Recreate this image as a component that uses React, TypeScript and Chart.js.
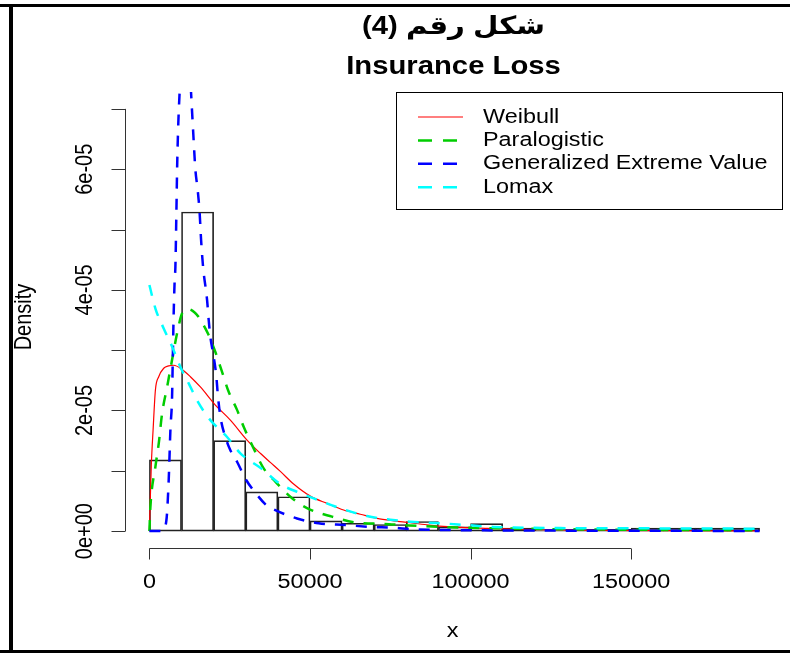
import React, { useEffect, useRef } from "react";
import { Chart, registerables } from "chart.js";

Chart.register(...registerables);

// ---------- text ----------
const TITLE_AR = "شكل رقم (4)";
const TITLE_EN = "Insurance Loss";
const X_LABEL = "x";
const Y_LABEL = "Density";

// ---------- histogram ----------
const binStarts = [0, 10000, 20000, 30000, 40000, 50000, 60000, 70000, 80000, 90000, 100000, 110000, 120000, 130000, 140000, 150000, 160000, 170000, 180000];
const binWidth = 10000;
const binDensity = [1.18e-5, 5.29e-5, 1.5e-5, 0.65e-5, 0.57e-5, 0.17e-5, 0.13e-5, 0.11e-5, 0.16e-5, 0.07e-5, 0.125e-5, 0.05e-5, 0.03e-5, 0.03e-5, 0.03e-5, 0.05e-5, 0.05e-5, 0.05e-5, 0.05e-5];

// ---------- fitted densities ----------
const weibullX = [0, 150, 310, 600, 1150, 1870, 2900, 4450, 6000, 7560, 10180, 12760, 15870, 20540, 25210, 30400, 34540, 37650, 40770, 44900, 50090, 55300, 60470, 65660, 70860, 76030, 81220, 87000, 94000, 105000, 120000, 140000, 165000, 190000];
const weibullY = [0, 0.3e-5, 0.6e-5, 1.1e-5, 1.68e-5, 2.34e-5, 2.56e-5, 2.7e-5, 2.74e-5, 2.75e-5, 2.68e-5, 2.56e-5, 2.39e-5, 2.09e-5, 1.84e-5, 1.51e-5, 1.29e-5, 1.14e-5, 0.99e-5, 0.78e-5, 0.58e-5, 0.46e-5, 0.35e-5, 0.28e-5, 0.21e-5, 0.17e-5, 0.14e-5, 0.1e-5, 0.07e-5, 0.045e-5, 0.025e-5, 0.012e-5, 0.006e-5, 0.003e-5];

const paraX = [0, 310, 1870, 2900, 3950, 5510, 7060, 8620, 10180, 12000, 14000, 15340, 18450, 20540, 22620, 24680, 27290, 29350, 32460, 35570, 39210, 43880, 49080, 56860, 64640, 72910, 79140, 90000, 105000, 130000, 160000, 190000];
const paraY = [0, 0.4e-5, 1.07e-5, 1.45e-5, 1.95e-5, 2.39e-5, 2.84e-5, 3.28e-5, 3.61e-5, 3.68e-5, 3.63e-5, 3.55e-5, 3.25e-5, 2.97e-5, 2.64e-5, 2.31e-5, 2.01e-5, 1.73e-5, 1.37e-5, 1.04e-5, 0.82e-5, 0.57e-5, 0.38e-5, 0.24e-5, 0.14e-5, 0.12e-5, 0.1e-5, 0.07e-5, 0.05e-5, 0.03e-5, 0.02e-5, 0.015e-5];

const gevX = [0, 4000, 5290, 6010, 6540, 7060, 7250, 7560, 7870, 8090, 8400, 8620, 8930, 9340, 10300, 11100, 12100, 12980, 13600, 14320, 15030, 15650, 16090, 16710, 17960, 18460, 18980, 20010, 20850, 21270, 22100, 23650, 25210, 27290, 29880, 33520, 36630, 38690, 45960, 52690, 61000, 68780, 76030, 82000, 100000, 130000, 160000, 190000];
const gevY = [0, 0, 0.18e-5, 0.85e-5, 1.68e-5, 2.23e-5, 2.78e-5, 3.61e-5, 4.16e-5, 4.38e-5, 5.27e-5, 5.99e-5, 6.65e-5, 7.2e-5, 8.1e-5, 8.6e-5, 8.2e-5, 7.26e-5, 6.65e-5, 5.99e-5, 5.66e-5, 5.27e-5, 4.83e-5, 4.38e-5, 3.83e-5, 3.5e-5, 3.22e-5, 2.89e-5, 2.56e-5, 2.28e-5, 1.9e-5, 1.56e-5, 1.34e-5, 1.15e-5, 0.87e-5, 0.6e-5, 0.42e-5, 0.36e-5, 0.21e-5, 0.13e-5, 0.1e-5, 0.07e-5, 0.055e-5, 0.03e-5, 0.015e-5, 0.008e-5, 0.005e-5, 0.003e-5];

const lomaxX = [0, 1870, 4450, 7060, 9650, 12230, 15340, 18980, 24180, 28320, 35070, 40770, 46990, 53750, 60470, 67750, 75000, 81220, 90560, 98870, 107140, 127900, 160000, 190000];
const lomaxY = [4.08e-5, 3.69e-5, 3.36e-5, 3.06e-5, 2.72e-5, 2.45e-5, 2.12e-5, 1.84e-5, 1.56e-5, 1.29e-5, 1.03e-5, 0.78e-5, 0.63e-5, 0.49e-5, 0.36e-5, 0.25e-5, 0.19e-5, 0.155e-5, 0.13e-5, 0.1e-5, 0.07e-5, 0.05e-5, 0.045e-5, 0.04e-5];

const seriesNames = ["Weibull", "Paralogistic", "Generalized Extreme Value", "Lomax"];
const seriesColors = ["#FF0000", "#00CD00", "#0000FF", "#00FFFF"];

// ---------- axes ----------
const xTickValues = [0, 50000, 100000, 150000];
const xTickLabels = ["0", "50000", "100000", "150000"];
const yTickValues = [0, 1e-5, 2e-5, 3e-5, 4e-5, 5e-5, 6e-5, 7e-5];
const yTickLabels = ["0e+00", "", "2e-05", "", "4e-05", "", "6e-05", ""];

const FONT = '"Liberation Sans", Arial, Helvetica, sans-serif';
const AR_FONT = '"Liberation Sans", Arial, "DejaVu Sans", sans-serif';
const SX = 1.17;
const DASH = [11, 10];

function drawText(
  ctx: CanvasRenderingContext2D,
  s: string,
  x: number,
  y: number,
  font: string,
  align: CanvasTextAlign = "center",
  rot = 0,
  dir: CanvasDirection = "ltr"
) {
  ctx.save();
  ctx.translate(x, y);
  ctx.scale(SX, 1);
  if (rot) ctx.rotate(rot);
  ctx.font = font;
  ctx.direction = dir;
  ctx.textAlign = align;
  ctx.textBaseline = "middle";
  ctx.fillStyle = "#000";
  ctx.fillText(s, 0, 0);
  ctx.restore();
}

const rPlot = {
  id: "rPlot",
  beforeDraw(chart: any) {
    const ctx = chart.ctx as CanvasRenderingContext2D;
    ctx.save();
    ctx.fillStyle = "#fff";
    ctx.fillRect(0, 0, chart.width, chart.height);
    ctx.restore();
  },
  afterDraw(chart: any) {
    const ctx = chart.ctx as CanvasRenderingContext2D;
    const xs = chart.scales.x;
    const ys = chart.scales.y;
    const a = chart.chartArea;
    ctx.save();
    // outer frame
    ctx.fillStyle = "#000";
    ctx.fillRect(0, 4, chart.width, 3);
    ctx.fillRect(9, 4, 4, chart.height - 4);
    ctx.fillRect(0, chart.height - 3, chart.width, 3);

    ctx.strokeStyle = "#333";
    ctx.lineWidth = 1;
    // x axis
    const yb = Math.round(a.bottom) + 0.5;
    const x0 = xs.getPixelForValue(xTickValues[0]);
    const x1 = xs.getPixelForValue(xTickValues[xTickValues.length - 1]);
    ctx.beginPath();
    ctx.moveTo(x0, yb);
    ctx.lineTo(x1, yb);
    xTickValues.forEach((v) => {
      const px = Math.round(xs.getPixelForValue(v)) + 0.5;
      ctx.moveTo(px, yb);
      ctx.lineTo(px, yb + 11);
    });
    ctx.stroke();
    xTickValues.forEach((v, i) => {
      drawText(ctx, xTickLabels[i], xs.getPixelForValue(v), a.bottom + 34, `20px ${FONT}`);
    });
    // y axis
    const xl = Math.round(a.left) + 0.5;
    const y0 = ys.getPixelForValue(yTickValues[0]);
    const y1 = ys.getPixelForValue(yTickValues[yTickValues.length - 1]);
    ctx.beginPath();
    ctx.moveTo(xl, y0);
    ctx.lineTo(xl, y1);
    yTickValues.forEach((v) => {
      const py = Math.round(ys.getPixelForValue(v)) + 0.5;
      ctx.moveTo(xl, py);
      ctx.lineTo(xl - 14, py);
    });
    ctx.stroke();
    yTickValues.forEach((v, i) => {
      if (yTickLabels[i]) drawText(ctx, yTickLabels[i], a.left - 39, ys.getPixelForValue(v), `20px ${FONT}`, "center", -Math.PI / 2);
    });
    // axis titles
    const cx = (a.left + a.right) / 2;
    const cy = (a.top + a.bottom) / 2;
    drawText(ctx, X_LABEL, cx - 2, a.bottom + 83, `20px ${FONT}`);
    drawText(ctx, Y_LABEL, a.left - 100, cy - 3, `20px ${FONT}`, "center", -Math.PI / 2);
    // titles
    drawText(ctx, TITLE_AR, cx - 1, a.top - 65, `bold 25px ${AR_FONT}`, "center", 0, "rtl");
    drawText(ctx, TITLE_EN, cx - 1, a.top - 25, `bold 25px ${FONT}`);

    // legend
    const lr = a.right - 2;
    const ll = lr - 386;
    const lt = a.top;
    const lh = 117;
    ctx.strokeStyle = "#000";
    ctx.lineWidth = 1;
    ctx.strokeRect(Math.round(ll) + 0.5, Math.round(lt) + 0.5, 386, lh);
    seriesNames.forEach((name, i) => {
      const ry = lt + 25 + i * 23.4;
      ctx.save();
      ctx.strokeStyle = seriesColors[i];
      ctx.lineWidth = i === 0 ? 1.2 : 2.5;
      ctx.setLineDash(i === 0 ? [] : [14, 11]);
      ctx.beginPath();
      ctx.moveTo(ll + 22, ry);
      ctx.lineTo(ll + 67, ry);
      ctx.stroke();
      ctx.restore();
      drawText(ctx, name, ll + 87, ry, `20px ${FONT}`, "left");
    });
    ctx.restore();
  },
};

function lineSet(xv: number[], yv: number[], idx: number, order: number) {
  return {
    type: "line" as const,
    label: seriesNames[idx],
    data: xv.map((x, i) => ({ x, y: yv[i] })),
    borderColor: seriesColors[idx],
    borderWidth: idx === 0 ? 1.2 : 2.5,
    borderDash: idx === 0 ? [] : DASH,
    pointRadius: 0,
    fill: false,
    cubicInterpolationMode: "monotone" as const,
    order,
  };
}

export default function App() {
  const ref = useRef<HTMLCanvasElement>(null);
  useEffect(() => {
    if (!ref.current) return;
    const chart = new Chart(ref.current, {
      type: "bar",
      data: {
        datasets: [
          {
            type: "bar",
            label: "hist",
            data: binStarts.map((s, i) => ({ x: s + binWidth / 2, y: binDensity[i] })),
            backgroundColor: "rgba(0,0,0,0)",
            borderColor: "#222",
            borderWidth: 1,
            borderSkipped: false,
            barPercentage: 1,
            categoryPercentage: 1,
            order: 10,
          } as any,
          lineSet(weibullX, weibullY, 0, 4),
          lineSet(paraX, paraY, 1, 3),
          lineSet(gevX, gevY, 2, 2),
          lineSet(lomaxX, lomaxY, 3, 1),
        ],
      },
      options: {
        responsive: false,
        devicePixelRatio: 1,
        animation: false,
        events: [],
        layout: { padding: { left: 125, right: 6, top: 92, bottom: 105 } },
        plugins: { legend: { display: false }, title: { display: false }, tooltip: { enabled: false } },
        scales: {
          x: {
            type: "linear",
            display: false,
            offset: false,
            min: -7600,
            max: 197600,
            afterBuildTicks: (s: any) => {
              s.ticks = xTickValues.map((v) => ({ value: v }));
            },
          },
          y: {
            type: "linear",
            display: false,
            min: -2.8e-6,
            max: 7.28e-5,
            afterBuildTicks: (s: any) => {
              s.ticks = yTickValues.map((v) => ({ value: v }));
            },
          },
        },
      } as any,
      plugins: [rPlot],
    });
    return () => chart.destroy();
  }, []);
  return (
    <div style={{ position: "fixed", left: 0, top: 0, width: 790, height: 653, background: "#fff" }}>
      <canvas ref={ref} width={790} height={653} style={{ display: "block", width: 790, height: 653 }} />
    </div>
  );
}
